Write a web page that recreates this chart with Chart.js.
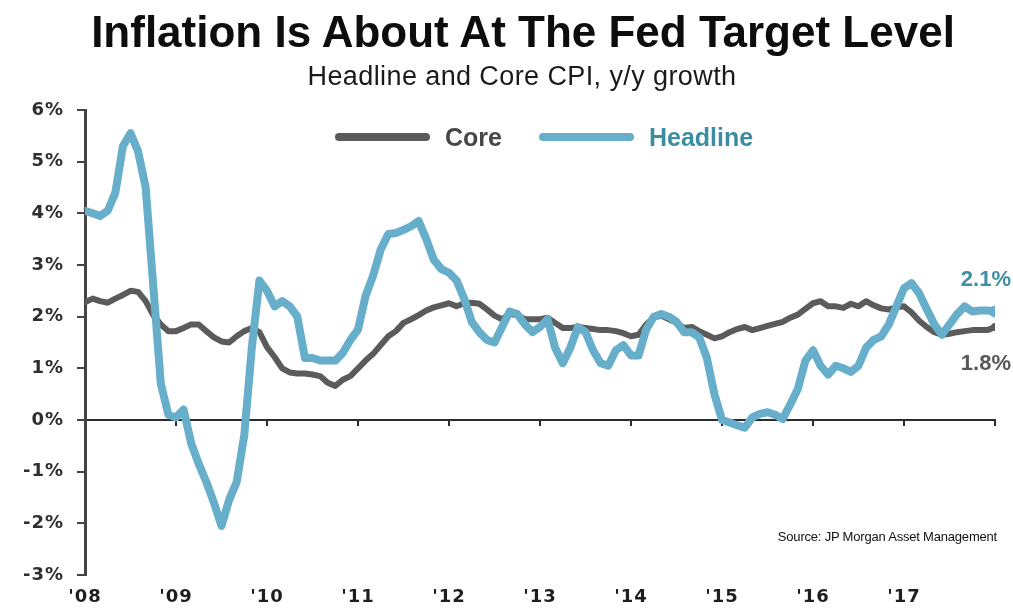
<!DOCTYPE html>
<html>
<head>
<meta charset="utf-8">
<title>CPI y/y</title>
<script src="https://cdn.jsdelivr.net/npm/chart.js@4.4.1/dist/chart.umd.min.js"></script>
<style>
  html, body { margin: 0; padding: 0; background: #fff; }
  #wrap { position: relative; width: 1013px; height: 609px; overflow: hidden; font-family: "Liberation Sans", Arial, sans-serif; }
  #cpi-chart { position: absolute; left: 0; top: 0; }
  .title { position: absolute; left: 0; width: 1046px; top: 10px; margin: 0; text-align: center; font-size: 44px; line-height: 44px; font-weight: bold; color: #0d0d0d; }
  .subtitle { position: absolute; left: 0; width: 1044px; top: 63px; text-align: center; font-size: 27px; line-height: 27px; letter-spacing: 0.4px; color: #1a1a1a; }
  #cpi-legend { position: absolute; left: 335px; top: 123px; display: flex; align-items: center; height: 28px; }
  .lg-item { display: flex; align-items: center; margin-right: 37px; }
  .lg-swatch { width: 95px; height: 8px; border-radius: 4px; margin-right: 15px; }
  .lg-text { font-size: 25px; font-weight: bold; line-height: 28px; }
  .source { position: absolute; right: 16px; top: 529px; font-size: 13px; color: #111; letter-spacing: -0.2px; }
</style>
</head>
<body>
<div id="wrap">
  <canvas id="cpi-chart" width="1013" height="609"></canvas>
  <h1 class="title">Inflation Is About At The Fed Target Level</h1>
  <div class="subtitle">Headline and Core CPI, y/y growth</div>
  <div id="cpi-legend"></div>
  <div class="source">Source: JP Morgan Asset Management</div>
</div>
<script>
// monthly y/y % change, Jan 2008 .. Jan 2018
const startYear = 2008;

const headline = [
  4.05, 4.0, 3.95, 4.05, 4.4, 5.3, 5.55, 5.2, 4.5, 2.6, 0.7, 0.1,        // 2008
  0.05, 0.2, -0.45, -0.85, -1.2, -1.6, -2.05, -1.55, -1.2, -0.3, 1.4, 2.7, // 2009
  2.5, 2.2, 2.3, 2.2, 2.0, 1.2, 1.2, 1.15, 1.15, 1.15, 1.3, 1.55,       // 2010
  1.75, 2.4, 2.8, 3.3, 3.6, 3.62, 3.68, 3.75, 3.85, 3.5, 3.1, 2.92,     // 2011
  2.85, 2.7, 2.35, 1.9, 1.7, 1.55, 1.5, 1.8, 2.1, 2.05, 1.85, 1.7,      // 2012
  1.8, 1.95, 1.4, 1.1, 1.4, 1.8, 1.7, 1.35, 1.1, 1.05, 1.35, 1.45,      // 2013
  1.25, 1.25, 1.75, 2.0, 2.05, 2.0, 1.9, 1.7, 1.7, 1.6, 1.2, 0.5,       // 2014
  0.0, -0.05, -0.1, -0.15, 0.05, 0.12, 0.15, 0.1, 0.02, 0.3, 0.6, 1.15, // 2015
  1.35, 1.05, 0.88, 1.05, 1.0, 0.93, 1.05, 1.4, 1.55, 1.62, 1.85, 2.2,  // 2016
  2.55, 2.65, 2.45, 2.15, 1.85, 1.65, 1.85, 2.05, 2.2, 2.1, 2.12, 2.12, // 2017
  2.1                                                                   // 2018
];

const core = [
  2.28, 2.35, 2.3, 2.27, 2.35, 2.42, 2.5, 2.48, 2.3, 2.03, 1.85, 1.72,  // 2008
  1.72, 1.78, 1.85, 1.85, 1.72, 1.6, 1.52, 1.5, 1.62, 1.72, 1.78, 1.7,  // 2009
  1.41, 1.22, 1.0, 0.92, 0.9, 0.9, 0.88, 0.85, 0.72, 0.66, 0.78, 0.85,  // 2010
  1.0, 1.15, 1.28, 1.45, 1.62, 1.72, 1.88, 1.95, 2.03, 2.12, 2.18, 2.22, // 2011
  2.26, 2.2, 2.26, 2.27, 2.25, 2.14, 2.02, 1.95, 2.05, 2.03, 1.95, 1.95, // 2012
  1.95, 1.98, 1.88, 1.78, 1.78, 1.8, 1.78, 1.76, 1.74, 1.74, 1.72, 1.68, // 2013
  1.62, 1.65, 1.85, 1.98, 2.02, 1.95, 1.88, 1.78, 1.8, 1.72, 1.65, 1.58, // 2014
  1.62, 1.7, 1.76, 1.8, 1.74, 1.78, 1.82, 1.86, 1.9, 1.98, 2.04, 2.15,  // 2015
  2.26, 2.3, 2.2, 2.2, 2.17, 2.25, 2.2, 2.3, 2.22, 2.16, 2.14, 2.18,    // 2016
  2.2, 2.08, 1.92, 1.8, 1.7, 1.65, 1.67, 1.7, 1.72, 1.74, 1.74, 1.74,   // 2017
  1.8                                                                   // 2018
];

const yearLabels = ["'08", "'09", "'10", "'11", "'12", "'13", "'14", "'15", "'16", "'17", ""];
const yTickLabels = ['-3%', '-2%', '-1%', '0%', '1%', '2%', '3%', '4%', '5%', '6%'];

const CORE_COLOR = '#5b5b5b';
const HEADLINE_COLOR = '#67aecb';
const FONT = '"Liberation Sans", Arial, sans-serif';
const TICK_FONT = { family: '"DejaVu Sans", sans-serif', size: 18, weight: 'bold' };

// month index -> fractional year on the linear x scale
const toPoints = arr => arr.map((v, i) => ({ x: startYear + i / 12, y: v }));
const lastOnly = r => ctx => ctx.dataIndex === ctx.dataset.data.length - 1 ? r : 0;

// axis labels are drawn before the datasets: loosen their tracking a little, then reset
const axisTracking = {
  id: 'axisTracking',
  beforeDraw(chart) { chart.ctx.letterSpacing = '1px'; },
  beforeDatasetsDraw(chart) { chart.ctx.letterSpacing = '0px'; }
};

// value tags next to the final month of each series
const endLabels = {
  id: 'endLabels',
  afterDatasetsDraw(chart) {
    const { ctx } = chart;
    chart.data.datasets.forEach((ds, i) => {
      const meta = chart.getDatasetMeta(i);
      const pt = meta.data[meta.data.length - 1];
      const v = ds.data[ds.data.length - 1].y;
      ctx.save();
      ctx.font = 'bold 22px ' + FONT;
      ctx.fillStyle = ds.tagColor;
      ctx.textAlign = 'right';
      ctx.textBaseline = 'middle';
      ctx.fillText(v.toFixed(1) + '%', chart.width - 2, pt.y + ds.tagOffset);
      ctx.restore();
    });
  }
};

function renderLegend(chart) {
  const box = document.getElementById('cpi-legend');
  box.innerHTML = '';
  chart.data.datasets.forEach(ds => {
    box.innerHTML += `
      <div class="lg-item">
        <div class="lg-swatch" style="background:${ds.borderColor}"></div>
        <span class="lg-text" style="color:${ds.legendColor}">${ds.label}</span>
      </div>`;
  });
}

const chart = new Chart(document.getElementById('cpi-chart'), {
  type: 'line',
  data: {
    datasets: [
      {
        label: 'Core',
        data: toPoints(core),
        borderColor: CORE_COLOR,
        backgroundColor: CORE_COLOR,
        borderWidth: 6,
        pointRadius: lastOnly(4),
        pointBorderWidth: 0,
        tension: 0,
        borderJoinStyle: 'round',
        borderCapStyle: 'round',
        order: 2,
        legendColor: '#474747',
        tagColor: '#575757',
        tagOffset: 37
      },
      {
        label: 'Headline',
        data: toPoints(headline),
        borderColor: HEADLINE_COLOR,
        backgroundColor: HEADLINE_COLOR,
        borderWidth: 8,
        pointRadius: lastOnly(6),
        pointBorderWidth: 0,
        tension: 0,
        borderJoinStyle: 'round',
        borderCapStyle: 'round',
        order: 1,
        legendColor: '#3c8ca2',
        tagColor: '#3f8ea4',
        tagOffset: -32
      }
    ]
  },
  options: {
    responsive: false,
    animation: false,
    layout: { padding: { top: 110, right: 18, bottom: 0, left: 0 } },
    plugins: {
      legend: { display: false },
      title: { display: false },
      tooltip: { enabled: false }
    },
    scales: {
      x: {
        type: 'linear',
        min: 2008,
        max: 2018,
        position: { y: 0 },
        ticks: { stepSize: 1, display: false },
        grid: { drawOnChartArea: false, drawTicks: true, tickLength: 5, color: '#2b2b2b', lineWidth: 2 },
        border: { display: true, color: '#2b2b2b', width: 2 }
      },
      xLabels: {
        type: 'linear',
        axis: 'x',
        min: 2008,
        max: 2018,
        position: 'bottom',
        grid: { display: false, drawTicks: false },
        border: { display: false },
        ticks: {
          stepSize: 1,
          autoSkip: false,
          maxRotation: 0,
          padding: 12,
          color: '#1e1e1e',
          font: TICK_FONT,
          callback: (v, i) => yearLabels[i]
        },
        afterFit: s => { s.height = 34; }
      },
      y: {
        min: -3,
        max: 6,
        ticks: {
          stepSize: 1,
          padding: 13,
          color: '#2e2e2e',
          font: TICK_FONT,
          callback: (v, i) => yTickLabels[i]
        },
        grid: { drawOnChartArea: false, drawTicks: true, tickLength: 8, color: '#444', lineWidth: 2 },
        border: { display: true, color: '#444', width: 3 },
        afterFit: s => { s.width = 85; }
      }
    }
  },
  plugins: [axisTracking, endLabels]
});

renderLegend(chart);
</script>
</body>
</html>
